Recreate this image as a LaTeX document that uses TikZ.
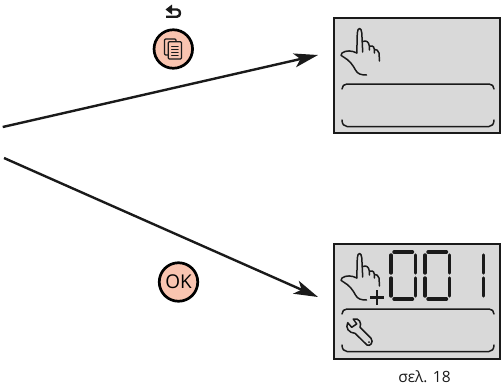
\documentclass[tikz,border=0pt]{standalone}
\usepackage{fontspec}
\setmainfont{Open Sans}
\usetikzlibrary{arrows.meta}
\definecolor{panelgray}{HTML}{D9D9D9}
\definecolor{btnpink}{HTML}{F9C4B0}
\definecolor{ink}{HTML}{1A1A1A}
\tikzset{
  panel/.style={draw=ink,fill=panelgray,line width=2pt},
  btn/.style={circle,draw=black,fill=btnpink,line width=2.7pt,minimum size=38.5pt,inner sep=0pt},
  flow/.style={draw=ink,line width=2.4pt,-{Stealth[length=24pt,width=14pt,inset=6pt]}},
  icon/.style={draw=ink,line width=1.5pt,line cap=round,line join=round},
  seg/.style={draw=ink,line width=3.4pt,line cap=round},
  pagelabel/.style={font=\fontsize{15.5}{18}\selectfont,text=ink,inner sep=0pt}
}
\newcommand{\handdraw}[1]{%
 \begin{scope}[shift={(0,#1)}]
  \draw[icon] (356.8,53) -- (357.3,33) .. controls (357.5,27) and (361.5,27) .. (361.8,33) -- (362.7,52);
  \draw[icon] (363.2,41.5) .. controls (366,40) and (369,42) .. (369.3,46) -- (369.5,50);
  \draw[icon] (369.5,46) .. controls (371,45) and (374,46) .. (374.3,49) -- (374.5,53);
  \draw[icon] (374.5,49.5) .. controls (376,49.5) and (378.5,50) .. (379,53) -- (379.5,61);
  \draw[icon] (356.8,53) .. controls (352,50.5) and (346,50) .. (342,53) .. controls (340,55) and (341,56) .. (343.5,57)
     .. controls (349,60) and (353,65) .. (355.5,70) .. controls (357.5,74) and (361,75) .. (366.5,75);
 \end{scope}}
\newcommand{\brackets}[1]{%
 \begin{scope}[shift={(0,#1)}]
  \draw[icon] (342,89) .. controls (342,86) and (344,84) .. (347,84) -- (489,84) .. controls (492,84) and (494,86) .. (494,89);
  \draw[icon] (342,120) .. controls (342,124) and (344,126.5) .. (347,126.5) -- (489,126.5) .. controls (492,126.5) and (494,124) .. (494,120);
 \end{scope}}
\newcommand{\zerodigit}[1]{%
 \begin{scope}[shift={(#1,0)}]
  \draw[seg] (5,252) -- (23.5,252);
  \draw[seg] (5,299) -- (23.5,299);
  \draw[seg] (2,255) -- (2,273);
  \draw[seg] (2,278) -- (2,296);
  \draw[seg] (26.5,255) -- (26.5,273);
  \draw[seg] (26.5,278) -- (26.5,296);
 \end{scope}}
\begin{document}
\begin{tikzpicture}[x=1pt,y=-1pt]
\useasboundingbox (0,0) rectangle (501,389);
% panels
\node[panel,minimum width=166pt,minimum height=115pt,inner sep=0pt] (top) at (416.5,75) {};
\node[panel,minimum width=166pt,minimum height=115pt,inner sep=0pt] (bottom) at (416.5,301) {};
\handdraw{0}
\brackets{0}
\handdraw{225}
\brackets{225}
% plus sign
\draw[icon,line width=2.2pt,line cap=butt] (370,297.5) -- (384,297.5) (377,290) -- (377,305);
% digits
\zerodigit{389}
\zerodigit{423}
\draw[seg] (483.5,255) -- (483.5,273);
\draw[seg] (483.5,278) -- (483.5,296);
% wrench
\draw[icon] (347.7,322.7) -- (351.7,327.3) -- (356.7,324) -- (353.3,319)
  .. controls (359,317.5) and (362,323) .. (360,327.3) -- (371,338.3)
  .. controls (374,342) and (370,347) .. (367,345) -- (355,333.3)
  .. controls (349,333) and (345,328) .. (347.7,322.7) -- cycle;
\fill[ink] (369,342) circle (1pt);
% buttons
\node[btn] (menu) at (173.3,49) {};
\node[btn,font=\fontsize{19}{21}\selectfont] (ok) at (178.5,282) {OK};
% doc icon
\draw[icon,line width=1.1pt,fill=btnpink,rounded corners=1pt] (164.5,39) rectangle (176,55);
\draw[icon,line width=1.2pt,fill=btnpink,rounded corners=1pt] (168.3,41.7) rectangle (181.5,59);
\draw[icon,line width=1.1pt] (171.7,46.5) -- (178.2,46.5) (171.7,49.5) -- (178.2,49.5) (171.7,52.5) -- (178.2,52.5) (171.7,55.5) -- (178.2,55.5);
% back icon
\draw[icon,line width=2.4pt,line cap=butt] (166,16.7) -- (177,16.7) .. controls (181,16.7) and (181,9.5) .. (177,9.5) -- (170,9.5);
\fill[ink] (172,4.5) -- (172,14.5) -- (165.5,9.5) -- cycle;
% arrows
\coordinate (a0) at (2.7,127);
\coordinate (a1) at (318,55);
\coordinate (b0) at (4,158);
\coordinate (b1) at (318,297);
\draw[flow] (a0) -- (a1);
\draw[flow] (b0) -- (b1);
\node[pagelabel] (pg) at (424.5,376.5) {σελ. 18};
\end{tikzpicture}
\end{document}
